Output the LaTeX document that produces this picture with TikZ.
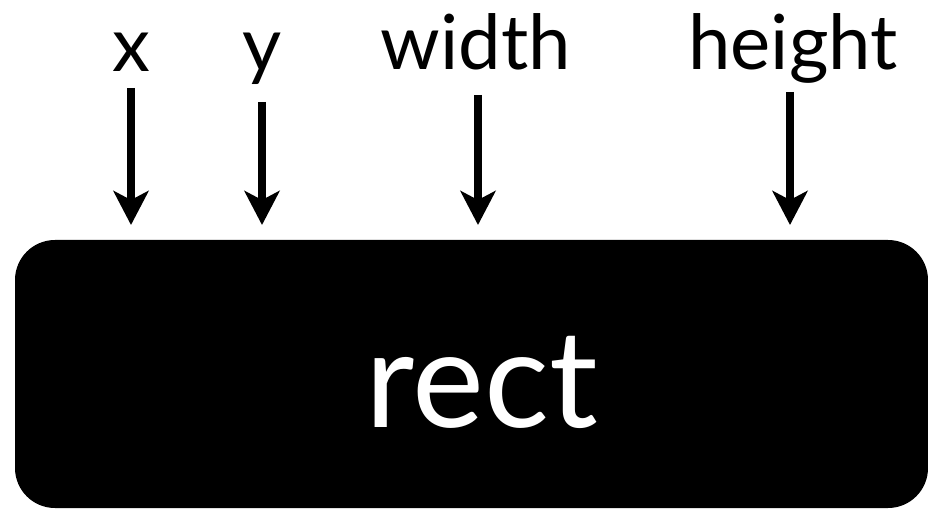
\documentclass[tikz,border=0pt]{standalone}
\usepackage{fontspec}
\setmainfont{Lato}
\usetikzlibrary{arrows.meta}
\tikzset{
  lbl/.style={anchor=base, inner sep=0pt, font=\fontsize{76}{80}\selectfont},
  ptr/.style={line width=8.5pt, -{Stealth[length=34pt, width=35pt, inset=9pt]}},
  box/.style={fill=black, rounded corners=40pt, minimum width=913pt, minimum height=268pt, inner sep=0pt},
  boxtext/.style={anchor=base, inner sep=0pt, text=white, font=\fontsize{136}{140}\selectfont}
}
\begin{document}
\begin{tikzpicture}[x=1pt, y=-1pt]
  \useasboundingbox (0,0) rectangle (928,510);
  \node[box] (rect) at (471.5,374) {};
  \node[boxtext] (recttext) at (482,427) {rect};
  \node[lbl] (lx) at (131,72) {x};
  \node[lbl] (ly) at (262,72) {y};
  \node[lbl] (lw) at (476,70) {width};
  \node[lbl] (lh) at (793,70) {height};
  \coordinate (xs) at (131,88);
  \coordinate (xe) at (131,225);
  \coordinate (ys) at (262,102);
  \coordinate (ye) at (262,225);
  \coordinate (ws) at (478,95);
  \coordinate (we) at (478,225);
  \coordinate (hs) at (790,92);
  \coordinate (he) at (790,225);
  \draw[ptr] (xs) -- (xe);
  \draw[ptr] (ys) -- (ye);
  \draw[ptr] (ws) -- (we);
  \draw[ptr] (hs) -- (he);
\end{tikzpicture}
\end{document}
